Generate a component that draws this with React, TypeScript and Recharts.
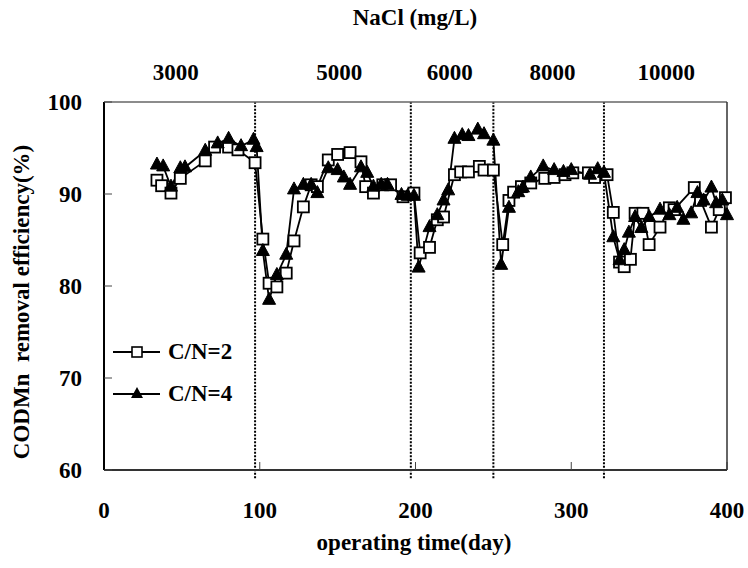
import React from 'react';
import { LineChart, Line, XAxis, YAxis, ReferenceLine, Legend } from 'recharts';

// C/N = 2 (open squares)
const CN2_DAYS = [34, 37, 43, 49, 65, 71, 80, 86, 97, 102, 106, 111, 117, 122, 128, 133, 137, 144, 150, 158, 165, 168, 173, 179, 184, 192, 199, 203, 209, 214, 218, 225, 229, 234, 241, 244, 250, 256, 260, 263, 268, 274, 283, 289, 296, 301, 311, 315, 323, 327, 331, 334, 338, 341, 346, 350, 357, 363, 366, 379, 383, 390, 395, 399];
const CN2_VALUES = [91.5, 90.9, 90.1, 91.7, 93.6, 95.1, 95.1, 94.8, 93.4, 85.1, 80.3, 79.9, 81.4, 84.9, 88.6, 91.0, 90.8, 93.7, 94.3, 94.5, 93.5, 90.8, 90.1, 91.0, 91.0, 89.7, 90.1, 83.6, 84.2, 87.2, 87.5, 92.1, 92.4, 92.4, 93.0, 92.6, 92.6, 84.5, 89.3, 90.2, 90.8, 91.2, 91.7, 91.8, 92.1, 92.3, 92.3, 91.8, 92.1, 88.0, 82.6, 82.1, 82.9, 87.9, 87.9, 84.5, 86.4, 88.5, 88.3, 90.7, 89.3, 86.4, 88.3, 89.6];

// C/N = 4 (filled triangles)
const CN4_DAYS = [34, 38, 43, 49, 52, 65, 73, 80, 88, 96, 98, 102, 106, 111, 117, 122, 128, 133, 137, 144, 150, 154, 158, 165, 169, 173, 178, 182, 191, 195, 199, 202, 209, 214, 218, 221, 225, 230, 234, 240, 244, 250, 255, 260, 266, 269, 274, 282, 289, 295, 300, 312, 317, 321, 327, 331, 334, 337, 341, 345, 350, 357, 363, 368, 372, 377, 381, 385, 390, 393, 397, 400];
const CN4_VALUES = [93.2, 93.0, 90.8, 92.8, 92.9, 94.7, 95.5, 96.0, 95.2, 95.9, 95.1, 83.8, 78.5, 81.2, 83.4, 90.5, 91.0, 91.0, 90.1, 92.8, 92.6, 91.8, 91.0, 92.9, 92.3, 90.8, 91.0, 91.0, 89.9, 89.8, 89.8, 82.0, 86.4, 87.7, 89.3, 90.4, 96.0, 96.4, 96.3, 97.0, 96.5, 95.8, 82.3, 88.5, 90.2, 90.7, 91.8, 93.0, 92.6, 92.4, 92.6, 92.1, 92.7, 92.3, 85.3, 82.8, 83.9, 85.8, 87.5, 86.3, 87.5, 88.3, 87.7, 88.5, 87.2, 87.9, 90.1, 89.3, 90.7, 89.0, 89.3, 87.7];

const X_TICKS = [0, 100, 200, 300, 400];
const Y_TICKS = [60, 70, 80, 90, 100];
const PHASE_BOUNDS = [97, 197, 250, 321];
const SALT_LABELS = ['3000', '5000', '6000', '8000', '10000'];
const SALT_CENTERS = [46, 151, 222, 288, 361];

const cn2Data = CN2_DAYS.map((day, i) => ({ day, value: CN2_VALUES[i] }));
const cn4Data = CN4_DAYS.map((day, i) => ({ day, value: CN4_VALUES[i] }));

const FONT = '"Liberation Serif", "Times New Roman", serif';
const textStyle = { fontFamily: FONT, fontSize: 23, fontWeight: 700, fill: '#000' };

const SquareDot = (props: any) => {
  const { cx, cy, index } = props;
  if (cx == null || cy == null) return null;
  return <rect key={`sq-${index}`} x={cx - 5.5} y={cy - 5.5} width={11} height={11} fill="#fff" stroke="#000" strokeWidth={1.8} />;
};

const TriangleDot = (props: any) => {
  const { cx, cy, index } = props;
  if (cx == null || cy == null) return null;
  return <polygon key={`tr-${index}`} points={`${cx},${cy - 7.5} ${cx - 6.5},${cy + 4.5} ${cx + 6.5},${cy + 4.5}`} fill="#000" stroke="#000" strokeWidth={1} />;
};

const renderLegend = () => (
  <div style={{ fontFamily: FONT, fontSize: 23, fontWeight: 700, lineHeight: '42px' }}>
    {[{ name: 'C/N=2', square: true }, { name: 'C/N=4', square: false }].map((item) => (
      <div key={item.name} style={{ display: 'flex', alignItems: 'center', height: 42 }}>
        <svg width={50} height={20} style={{ marginRight: 6 }}>
          <line x1={1} y1={10} x2={48} y2={10} stroke="#000" strokeWidth={1.8} />
          {item.square ? (
            <rect x={20} y={5} width={10} height={10} fill="#fff" stroke="#000" strokeWidth={1.6} />
          ) : (
            <polygon points="25,3 19,14 31,14" fill="#000" />
          )}
        </svg>
        <span>{item.name}</span>
      </div>
    ))}
  </div>
);

export default function App() {
  return (
    <div style={{ position: 'absolute', left: 0, top: 0, width: 748, height: 568, background: '#fff' }}>
      <LineChart width={748} height={568} margin={{ top: 101, right: 20, left: 103, bottom: 97 }}>
        <XAxis
          dataKey="day"
          type="number"
          domain={[0, 400]}
          ticks={X_TICKS}
          height={1}
          tickSize={-8}
          tickMargin={40}
          tickLine={{ stroke: '#444', strokeWidth: 1 }}
          axisLine={{ stroke: '#333', strokeWidth: 2 }}
          tick={textStyle}
          allowDuplicatedCategory={false}
        />
        <XAxis
          xAxisId="top"
          orientation="top"
          type="number"
          domain={[0, 400]}
          height={1}
          tick={false}
          tickLine={false}
          axisLine={{ stroke: '#666', strokeWidth: 1.5 }}
        />
        <YAxis
          type="number"
          domain={[60, 100]}
          ticks={Y_TICKS}
          width={1}
          tickSize={-8}
          tickMargin={30}
          tickLine={{ stroke: '#444', strokeWidth: 1 }}
          axisLine={{ stroke: '#000', strokeWidth: 2 }}
          tick={textStyle}
        />
        <YAxis yAxisId="right" orientation="right" domain={[60, 100]} width={1} tick={false} tickLine={false} axisLine={{ stroke: '#333', strokeWidth: 1.5 }} />
        {SALT_CENTERS.map((c, i) => (
          <ReferenceLine
            key={`salt-${c}`}
            x={c}
            stroke="none"
            label={{ value: SALT_LABELS[i], position: 'top', offset: 22, ...textStyle }}
          />
        ))}
        {PHASE_BOUNDS.map((d) => (
          <ReferenceLine
            key={d}
            segment={[{ x: d, y: 59.1 }, { x: d, y: 100 }]}
            ifOverflow="visible"
            stroke="#000"
            strokeWidth={2}
            strokeDasharray="2 1.5"
          />
        ))}
        <Line
          data={cn2Data}
          dataKey="value"
          name="C/N=2"
          stroke="#000"
          strokeWidth={1.8}
          dot={SquareDot}
          isAnimationActive={false}
        />
        <Line
          data={cn4Data}
          dataKey="value"
          name="C/N=4"
          stroke="#000"
          strokeWidth={1.8}
          dot={TriangleDot}
          isAnimationActive={false}
        />
        <Legend
          layout="vertical"
          align="center"
          verticalAlign="middle"
          content={renderLegend}
          wrapperStyle={{ position: 'absolute', left: 112, top: 331, width: 160, height: 84 }}
        />
      </LineChart>
      <div style={{ position: 'absolute', left: 415, top: 18, transform: 'translate(-50%, -50%)', fontFamily: FONT, fontSize: 23, fontWeight: 700, whiteSpace: 'nowrap' }}>
        NaCl (mg/L)
      </div>
      <div style={{ position: 'absolute', left: 414, top: 543, transform: 'translate(-50%, -50%)', fontFamily: FONT, fontSize: 23, fontWeight: 700, whiteSpace: 'nowrap' }}>
        operating time(day)
      </div>
      <div style={{ position: 'absolute', left: 22, top: 302, transform: 'translate(-50%, -50%) rotate(-90deg)', fontFamily: FONT, fontSize: 23, fontWeight: 700, whiteSpace: 'pre' }}>
        {'CODMn  removal efficiency(%)'}
      </div>
    </div>
  );
}
